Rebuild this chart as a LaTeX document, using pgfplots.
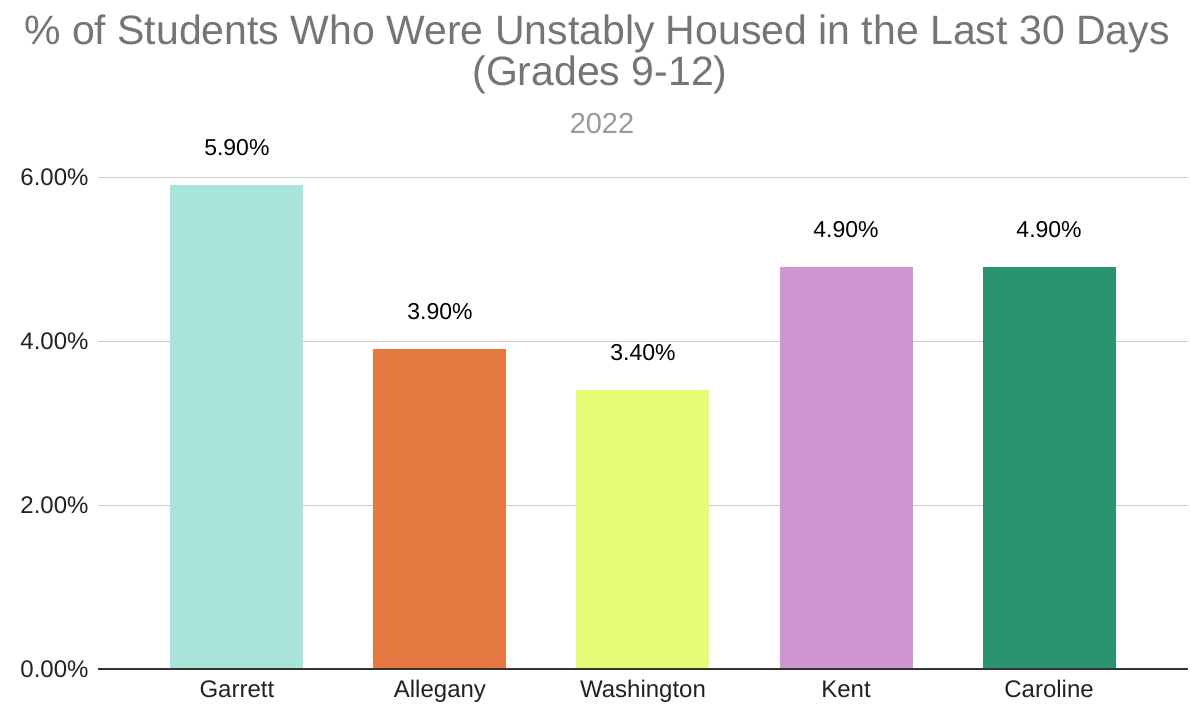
\documentclass[border=0pt]{standalone}
\usepackage{pgfplots}
\pgfplotsset{compat=1.18}
\usepackage{fontspec}
\setmainfont{Liberation Sans}
\definecolor{cGar}{HTML}{A8E4D9}
\definecolor{cAll}{HTML}{E5793F}
\definecolor{cWas}{HTML}{E5FC77}
\definecolor{cKen}{HTML}{CE96D1}
\definecolor{cCar}{HTML}{2A9270}
\definecolor{titlegray}{HTML}{757575}
\definecolor{subgray}{HTML}{999999}
\definecolor{gridgray}{HTML}{CCCCCC}
\definecolor{axisdark}{HTML}{333333}
\definecolor{labeltext}{HTML}{222222}
\begin{document}
\begin{tikzpicture}[x=1pt,y=1pt]
\path[use as bounding box] (-98,-38) rectangle (1092,669);
\begin{axis}[
  at={(0,0)}, anchor=south west,
  scale only axis,
  width=1090pt, height=492pt,
  xmin=-0.684, xmax=4.684,
  ymin=0, ymax=6,
  clip=false,
  axis line style={draw=none},
  xtick={0,1,2,3,4},
  xticklabels={Garrett,Allegany,Washington,Kent,Caroline},
  xtick style={draw=none},
  ytick={0,2,4,6},
  ytick style={draw=none},
  ymajorgrids,
  grid style={gridgray, line width=1pt},
  /pgf/number format/assume math mode=true,
  yticklabel={\pgfmathprintnumber[fixed,fixed zerofill,precision=2]{\tick}\%},
  yticklabel style={font=\fontsize{24}{28}\selectfont, text=labeltext, xshift=-6pt},
  xticklabel style={font=\fontsize{24}{28}\selectfont, text=labeltext, text height=17pt, text depth=5pt, yshift=-4pt},
  ybar, bar width=133pt, bar shift=0pt,
  nodes near coords={\pgfmathprintnumber[fixed,fixed zerofill,precision=2]{\pgfplotspointmeta}\%},
  nodes near coords style={font=\fontsize{23}{27}\selectfont, text=black, anchor=center, yshift=38pt},
]
\addplot[fill=cGar, draw=none] coordinates {(0,5.9)};
\addplot[fill=cAll, draw=none] coordinates {(1,3.9)};
\addplot[fill=cWas, draw=none] coordinates {(2,3.4)};
\addplot[fill=cKen, draw=none] coordinates {(3,4.9)};
\addplot[fill=cCar, draw=none] coordinates {(4,4.9)};
\draw[axisdark, line width=1.5pt] (axis cs:-0.684,0) -- (axis cs:4.684,0);
\end{axis}
\node[anchor=base, text=titlegray, font=\fontsize{41}{48}\selectfont] at (499,669-45) {\% of Students Who Were Unstably Housed in the Last 30 Days};
\node[anchor=base, text=titlegray, font=\fontsize{41}{48}\selectfont] at (502,669-86) {(Grades 9-12)};
\node[anchor=base, text=subgray, font=\fontsize{29}{34}\selectfont] at (504,669-134) {2022};
\end{tikzpicture}
\end{document}
